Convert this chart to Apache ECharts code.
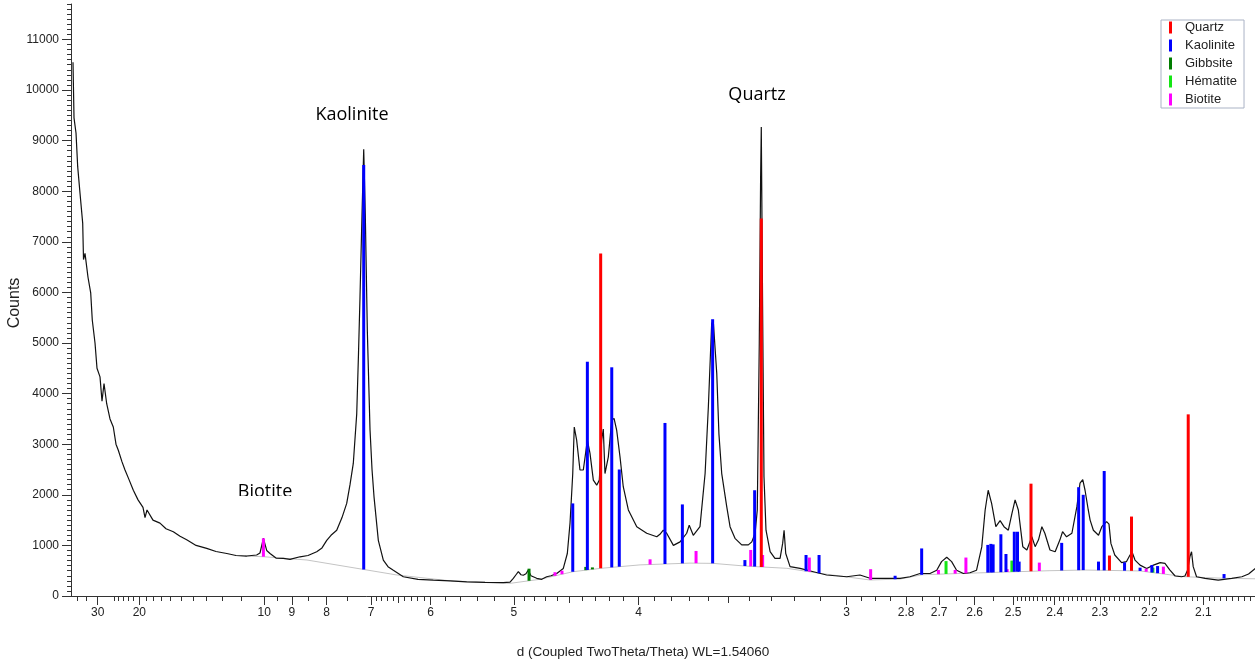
<!DOCTYPE html>
<html>
<head>
<meta charset="utf-8">
<script src="https://cdn.jsdelivr.net/npm/echarts@6.0.0/dist/echarts.min.js"></script>
<style>
  html, body { margin: 0; padding: 0; background: #fff; }
  #xrd { width: 1255px; height: 665px; }
</style>
</head>
<body>
<div id="xrd"></div>
<script>
// measured pattern, d-spacing (Angstrom) and counts
var curveD = [42.68, 41.96, 40.59, 39.50, 38.11, 36.61, 36.18, 35.41, 33.97, 32.76,
  32.09, 31.01, 30.26, 29.20, 28.53, 27.89, 27.08, 26.14, 25.27, 24.60,
  24.05, 23.22, 22.59, 21.80, 21.01, 20.21, 19.43, 19.13, 18.84, 18.03,
  17.16, 16.48, 15.72, 15.08, 14.50, 13.75, 12.99, 12.39, 11.76, 11.27,
  10.75, 10.31, 10.17, 10.03, 9.899, 9.771, 9.547, 9.288, 9.062, 8.744,
  8.506, 8.261, 8.119, 7.996, 7.888, 7.748, 7.623, 7.515, 7.441, 7.369,
  7.295, 7.257, 7.226, 7.184, 7.149, 7.117, 7.076, 7.022, 6.983, 6.944,
  6.862, 6.769, 6.684, 6.590, 6.421, 6.187, 5.961, 5.732, 5.521, 5.306,
  5.107, 5.038, 5.005, 4.978, 4.955, 4.929, 4.907, 4.881, 4.859, 4.834,
  4.781, 4.735, 4.691, 4.653, 4.604, 4.549, 4.516, 4.494, 4.472, 4.460,
  4.441, 4.415, 4.389, 4.358, 4.338, 4.313, 4.288, 4.269, 4.252, 4.240,
  4.228, 4.204, 4.180, 4.164, 4.146, 4.123, 4.101, 4.067, 4.012, 3.949,
  3.887, 3.868, 3.848, 3.828, 3.789, 3.751, 3.714, 3.700, 3.678, 3.642,
  3.615, 3.598, 3.581, 3.573, 3.555, 3.544, 3.530, 3.505, 3.489, 3.465,
  3.433, 3.402, 3.386, 3.371, 3.361, 3.352, 3.346, 3.343, 3.337, 3.331,
  3.322, 3.304, 3.283, 3.261, 3.250, 3.244, 3.237, 3.219, 3.178, 3.125,
  3.074, 3.000, 2.953, 2.918, 2.862, 2.819, 2.788, 2.757, 2.727, 2.707,
  2.693, 2.678, 2.664, 2.650, 2.631, 2.613, 2.595, 2.581, 2.572, 2.564,
  2.555, 2.544, 2.533, 2.523, 2.512, 2.503, 2.495, 2.487, 2.476, 2.466,
  2.454, 2.446, 2.438, 2.430, 2.423, 2.411, 2.399, 2.388, 2.382, 2.373,
  2.361, 2.350, 2.343, 2.337, 2.332, 2.325, 2.321, 2.314, 2.303, 2.296,
  2.286, 2.281, 2.277, 2.269, 2.255, 2.245, 2.238, 2.233, 2.228, 2.218,
  2.205, 2.192, 2.179, 2.170, 2.161, 2.151, 2.139, 2.133, 2.128, 2.124,
  2.121, 2.118, 2.112, 2.097, 2.074, 2.051, 2.034, 2.023, 2.012];
var curveCounts = [10550, 9450, 9150, 8480, 7960, 7370, 6650, 6770, 6300, 5990,
  5450, 5000, 4500, 4330, 3850, 4200, 3800, 3500, 3340, 3000,
  2880, 2650, 2490, 2300, 2090, 1900, 1750, 1550, 1700, 1500,
  1440, 1330, 1270, 1180, 1110, 1000, 940, 880, 840, 800,
  790, 810, 850, 1140, 900, 840, 750, 745, 725, 775,
  800, 875, 950, 1100, 1200, 1300, 1550, 1830, 2200, 2620,
  3600, 4800, 5900, 7550, 8830, 7550, 5250, 3280, 2500, 1960,
  1100, 710, 580, 510, 380, 330, 315, 300, 280, 270,
  263, 275, 350, 420, 480, 420, 410, 440, 510, 400,
  350, 330, 380, 400, 445, 545, 840, 1440, 2420, 3340,
  3080, 2490, 2490, 3080, 2820, 2290, 2190, 2290, 3080, 3300,
  2420, 2750, 3480, 3510, 3280, 2750, 2160, 1700, 1370, 1240,
  1170, 1220, 1300, 1240, 1000, 1070, 1240, 1400, 1200, 1370,
  2420, 3740, 5380, 5450, 4400, 3200, 2420, 1760, 1370, 1140,
  1010, 1010, 1070, 1240, 1700, 5000, 8280, 9270, 5650, 2360,
  1300, 875, 745, 745, 1040, 1300, 840, 580, 545, 480,
  415, 380, 415, 350, 350, 350, 380, 445, 445, 510,
  680, 765, 680, 510, 445, 460, 510, 970, 1700, 2090,
  1830, 1370, 1490, 1370, 1300, 1630, 1900, 1700, 975, 910,
  1170, 975, 1110, 1370, 1240, 910, 875, 1110, 1270, 1170,
  1240, 1760, 2230, 2300, 2090, 1700, 1500, 1300, 1200, 1370,
  1470, 1420, 1040, 810, 660, 680, 810, 845, 710, 610,
  545, 610, 660, 645, 515, 395, 380, 395, 515, 775,
  875, 580, 380, 350, 315, 350, 380, 435, 545];

// background fit (grey line)
var bgD = [10.83, 10.01, 8.535, 7.164, 6.527, 5.732, 5.038, 4.751, 4.470, 4.257,
  3.991, 3.696, 3.574, 3.418, 3.232, 3.099, 2.918, 2.819, 2.751, 2.640,
  2.533, 2.411, 2.332, 2.218, 2.133, 2.062, 2.012];
var bgCounts = [790, 776, 711, 527, 415, 300, 250, 330, 480, 547,
  615, 650, 645, 592, 547, 448, 316, 335, 420, 445,
  470, 500, 513, 495, 381, 349, 340];

// reference sticks: d and top count
var quartzD = [4.259, 3.343, 2.456, 2.280, 2.235, 2.127];
var quartzTop = [6770, 7460, 2220, 800, 1570, 3590];
var kaoliniteD = [7.149, 4.472, 4.358, 4.180, 4.128, 3.838, 3.738, 3.576, 3.418, 3.373,
  3.154, 3.103, 2.835, 2.752, 2.565, 2.557, 2.551, 2.531, 2.518, 2.497,
  2.489, 2.485, 2.384, 2.346, 2.336, 2.303, 2.291, 2.249, 2.218, 2.195,
  2.184, 2.064];
var kaoliniteTop = [8520, 1830, 4630, 4520, 2500, 3420, 1810, 5470, 710, 2090,
  810, 810, 400, 940, 1010, 1030, 1020, 1220, 830, 1270,
  1270, 680, 1050, 2150, 2000, 680, 2470, 665, 560, 612,
  592, 434];
var gibbsiteD = [4.852, 4.370, 4.320];
var gibbsiteTop = [540, 575, 565];
var hematiteD = [2.680, 2.503, 2.193];
var hematiteTop = [690, 700, 560];
var biotiteD = [10.03, 4.619, 4.560, 3.928, 3.663, 3.391, 3.337, 3.141, 2.916, 2.702,
  2.654, 2.624, 2.515, 2.436, 2.206, 2.173];
var biotiteTop = [1140, 470, 500, 725, 890, 910, 810, 760, 530, 515,
  515, 760, 530, 660, 540, 580];

// axis
var dLeft = 44.19, dRight = 2.0125;
var dLabels = [30, 20, 10, 9, 8, 7, 6, 5, 4, 3, 2.8, 2.7, 2.6, 2.5, 2.4, 2.3, 2.2, 2.1];
var dMedium = [6.5, 4.5, 3.5];
var dMinor = [40, 35, 25, 24, 23, 22, 21, 19, 18, 17, 16, 15, 14, 13, 12, 11, 9.5, 8.5, 7.5,
  6.9, 6.8, 6.7, 6.6, 6.4, 6.3, 6.2, 6.1, 5.8, 5.6, 5.4, 5.2,
  4.9, 4.8, 4.7, 4.6, 4.4, 4.3, 4.2, 4.1, 3.9, 3.8, 3.7, 3.6, 3.4, 3.3, 3.2, 3.1,
  2.95, 2.9, 2.85, 2.75, 2.65, 2.55];
for (var k = 249; k >= 202; k--) {
  if (k % 10 !== 0) dMinor.push(k / 100);
}
var yLabels = [0, 1000, 2000, 3000, 4000, 5000, 6000, 7000, 8000, 9000, 10000, 11000];

var inv = function (d) { return 1 / d; };
var bgQ = bgD.map(inv);

function bgAt(q) {
  if (q <= bgQ[0]) return bgCounts[0];
  for (var i = 1; i < bgQ.length; i++) {
    if (q <= bgQ[i]) {
      var t = (q - bgQ[i - 1]) / (bgQ[i] - bgQ[i - 1]);
      return bgCounts[i - 1] + t * (bgCounts[i] - bgCounts[i - 1]);
    }
  }
  return bgCounts[bgCounts.length - 1];
}

function sticks(ds, tops) {
  return ds.map(function (d, i) { return [1 / d, bgAt(1 / d), tops[i]]; });
}

function renderStick(params, api) {
  var top = api.coord([api.value(0), api.value(2)]);
  var bottom = api.coord([api.value(0), api.value(1)]);
  if (bottom[1] <= top[1]) return;
  return {
    type: 'rect',
    shape: { x: top[0] - 1.5, y: top[1], width: 3, height: bottom[1] - top[1] },
    style: { fill: api.visual('color') }
  };
}

function stickSeries(name, color, ds, tops) {
  return {
    name: name,
    type: 'custom',
    renderItem: renderStick,
    itemStyle: { color: color },
    encode: { x: 0, y: [1, 2] },
    data: sticks(ds, tops),
    z: 4
  };
}

var axisFont = 'Liberation Sans, Arial, sans-serif';
var xBase = { type: 'value', min: 1 / dLeft, max: 1 / dRight, position: 'bottom', splitLine: { show: false } };

var myChart = echarts.init(document.getElementById('xrd'));

var option = {
  animation: false,
  backgroundColor: '#fff',
  grid: { left: 71, right: 0, top: 4, bottom: 69 },
  legend: {
    orient: 'vertical',
    left: 1161,
    top: 20,
    icon: 'rect',
    itemWidth: 3,
    itemHeight: 12,
    itemGap: 5,
    padding: [1, 7, 2, 8],
    borderColor: '#aab3c5',
    borderWidth: 1,
    textStyle: { fontSize: 13, fontFamily: axisFont, color: '#222', padding: [0, 0, 0, 8] },
    data: ['Quartz', 'Kaolinite', 'Gibbsite', 'Hématite', 'Biotite']
  },
  xAxis: [
    Object.assign({}, xBase, {
      axisLine: { show: true, onZero: false, lineStyle: { color: '#333' } },
      axisTick: { show: true, length: 9, customValues: dLabels.map(inv), lineStyle: { color: '#333' } },
      axisLabel: {
        customValues: dLabels.map(inv),
        margin: 11,
        fontSize: 12,
        fontFamily: axisFont,
        color: '#222',
        formatter: function (v) { return String(Math.round(100 / v) / 100); }
      }
    }),
    Object.assign({}, xBase, {
      axisLine: { show: false, onZero: false },
      axisTick: { show: true, length: 7, customValues: dMedium.map(inv), lineStyle: { color: '#333' } },
      axisLabel: { show: false }
    }),
    Object.assign({}, xBase, {
      axisLine: { show: false, onZero: false },
      axisTick: { show: true, length: 5, customValues: dMinor.map(inv), lineStyle: { color: '#333' } },
      axisLabel: { show: false }
    })
  ],
  yAxis: [
    {
      type: 'value', min: 0, max: 11700, interval: 1000, position: 'left',
      splitLine: { show: false },
      axisLine: { show: true, onZero: false, lineStyle: { color: '#333' } },
      axisTick: { show: true, length: 9, customValues: yLabels, lineStyle: { color: '#333' } },
      axisLabel: {
        customValues: yLabels, margin: 12, fontSize: 12, fontFamily: axisFont, color: '#222',
        formatter: function (v) { return String(v); }
      }
    },
    {
      type: 'value', min: 0, max: 11700, interval: 100, position: 'left',
      splitLine: { show: false },
      axisLine: { show: false },
      axisTick: { show: true, length: 4, lineStyle: { color: '#333' } },
      axisLabel: { show: false }
    }
  ],
  series: [
    {
      name: 'Background',
      type: 'line',
      showSymbol: false,
      silent: true,
      lineStyle: { color: '#c4c4c4', width: 1 },
      data: bgD.map(function (d, i) { return [1 / d, bgCounts[i]]; }),
      z: 2
    },
    {
      name: 'Scan',
      type: 'line',
      showSymbol: false,
      lineStyle: { color: '#111', width: 1.2 },
      data: curveD.map(function (d, i) { return [1 / d, curveCounts[i]]; }),
      z: 3
    },
    stickSeries('Biotite', '#ff00ff', biotiteD, biotiteTop),
    stickSeries('Hématite', '#14e614', hematiteD, hematiteTop),
    stickSeries('Gibbsite', '#007d00', gibbsiteD, gibbsiteTop),
    stickSeries('Kaolinite', '#0000ff', kaoliniteD, kaoliniteTop),
    stickSeries('Quartz', '#ff0000', quartzD, quartzTop)
  ],
  graphic: [
    { type: 'text', x: 352, y: 115, style: { text: 'Kaolinite', font: '18px "Open Sans", sans-serif', fill: '#000', align: 'center', verticalAlign: 'middle' } },
    { type: 'text', x: 757, y: 95, style: { text: 'Quartz', font: '18px "Open Sans", sans-serif', fill: '#000', align: 'center', verticalAlign: 'middle' } },
    { type: 'text', x: 265, y: 492, style: { text: 'Biotite', font: '18px "Open Sans", sans-serif', fill: '#000', align: 'center', verticalAlign: 'middle' } },
    { type: 'rect', shape: { x: 228, y: 496, width: 75, height: 12 }, style: { fill: '#fff' }, z: 10 },
    { type: 'text', x: 643, y: 652, style: { text: 'd (Coupled TwoTheta/Theta) WL=1.54060', font: '13.5px "Liberation Sans", Arial, sans-serif', fill: '#222', align: 'center', verticalAlign: 'middle' } },
    { type: 'text', x: 15, y: 303, rotation: Math.PI / 2, style: { text: 'Counts', font: '16px "Liberation Sans", Arial, sans-serif', fill: '#222', align: 'center', verticalAlign: 'middle' } }
  ]
};

myChart.setOption(option);
</script>
</body>
</html>
